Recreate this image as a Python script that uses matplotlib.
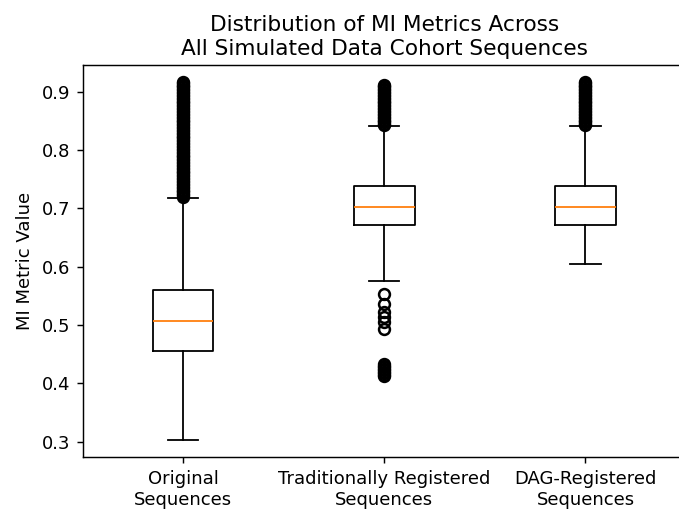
import matplotlib
matplotlib.use("Agg")
import matplotlib.pyplot as plt

categories = ["Original\nSequences", "Traditionally Registered\nSequences", "DAG-Registered\nSequences"]

# box statistics
q1 = [0.455, 0.671, 0.671]
med = [0.507, 0.702, 0.702]
q3 = [0.560, 0.738, 0.738]
whislo = [0.303, 0.576, 0.604]
whishi = [0.718, 0.842, 0.842]

# outliers (dense runs appear as solid bars)
fliers_original = [
    0.7200, 0.7225, 0.7250, 0.7275, 0.7300, 0.7325, 0.7350, 0.7375, 0.7400,
    0.7425, 0.7450, 0.7475, 0.7500, 0.7525, 0.7550, 0.7575, 0.7600, 0.7625, 0.7650,
    0.7675, 0.7700, 0.7725, 0.7750, 0.7775, 0.7800, 0.7825, 0.7850, 0.7875, 0.7900,
    0.7925, 0.7950, 0.7975, 0.8000, 0.8025, 0.8050, 0.8075, 0.8100, 0.8125, 0.8150,
    0.8175, 0.8200, 0.8225, 0.8250, 0.8275, 0.8300, 0.8325, 0.8350, 0.8375, 0.8400,
    0.8425, 0.8450, 0.8475, 0.8500, 0.8525, 0.8550, 0.8575, 0.8600, 0.8625, 0.8650,
    0.8675, 0.8700, 0.8725, 0.8750, 0.8775, 0.8800, 0.8825, 0.8850, 0.8875, 0.8900,
    0.8925, 0.8950, 0.8975, 0.9000, 0.9025, 0.9050, 0.9075, 0.9100, 0.9125, 0.9150, 0.9170]
fliers_traditional = [
    0.8425, 0.8450, 0.8475, 0.8500, 0.8525, 0.8550, 0.8575, 0.8600, 0.8625, 0.8650,
    0.8675, 0.8700, 0.8725, 0.8750, 0.8775, 0.8800, 0.8825, 0.8850, 0.8875, 0.8900,
    0.8925, 0.8950, 0.8975, 0.9000, 0.9025, 0.9050, 0.9075, 0.9100, 0.9125,
    0.554, 0.537, 0.523, 0.514, 0.506, 0.494,
    0.4325, 0.4300, 0.4275, 0.4250, 0.4225, 0.4200, 0.4175, 0.4150, 0.4125]
fliers_dag = [
    0.8425, 0.8450, 0.8475, 0.8500, 0.8525, 0.8550, 0.8575, 0.8600, 0.8625, 0.8650,
    0.8675, 0.8700, 0.8725, 0.8750, 0.8775, 0.8800, 0.8825, 0.8850, 0.8875, 0.8900,
    0.8925, 0.8950, 0.8975, 0.9000, 0.9025, 0.9050, 0.9075, 0.9100, 0.9125, 0.9150, 0.9170]
fliers = [fliers_original, fliers_traditional, fliers_dag]

title = "Distribution of MI Metrics Across\nAll Simulated Data Cohort Sequences"
ylabel = "MI Metric Value"

stats = []
for i in range(len(categories)):
    stats.append(dict(label=categories[i], q1=q1[i], med=med[i], q3=q3[i],
                      whislo=whislo[i], whishi=whishi[i], fliers=fliers[i]))

DPI = 130
fig = plt.figure(figsize=(679 / DPI, 511 / DPI), dpi=DPI)
ax = fig.add_axes([0.1218, 0.105, 0.8885, 0.767])
ax.bxp(stats, widths=0.3,
       flierprops=dict(marker='o', markersize=6, markerfacecolor='none',
                       markeredgecolor='black', markeredgewidth=1.4),
       medianprops=dict(color='#ff7f0e'))
ax.set_xlim(0.5, 3.5)
ax.set_ylim(0.2733, 0.9453)
ax.set_yticks([0.3, 0.4, 0.5, 0.6, 0.7, 0.8, 0.9])
ax.set_ylabel(ylabel)
ax.set_title(title)
fig.savefig("out.png", dpi=DPI)
